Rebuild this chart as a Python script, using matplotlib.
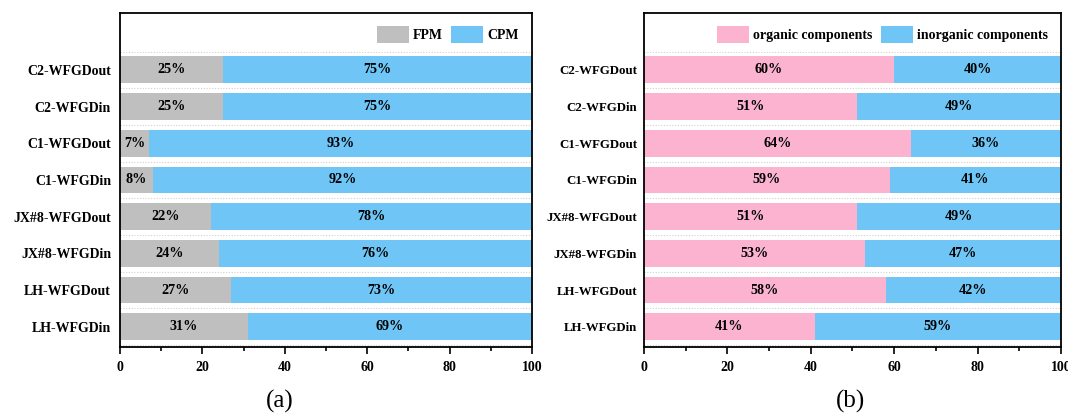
import matplotlib
matplotlib.use("Agg")
import matplotlib.pyplot as plt
from matplotlib.ticker import MultipleLocator
import numpy as np

plt.rcParams['font.family'] = ['Liberation Serif', 'DejaVu Serif']

samples = ["LH-WFGDin", "LH-WFGDout", "JX#8-WFGDin", "JX#8-WFGDout",
           "C1-WFGDin", "C1-WFGDout", "C2-WFGDin", "C2-WFGDout"]
fpm = [31, 27, 24, 22, 8, 7, 25, 25]
cpm = [69, 73, 76, 78, 92, 93, 75, 75]
organic = [41, 58, 53, 51, 59, 64, 51, 60]
inorganic = [59, 42, 47, 49, 41, 36, 49, 40]

GREY = "#bfbfbf"
BLUE = "#6fc5f5"
PINK = "#fbb3d0"

fig = plt.figure(figsize=(10.68, 4.16), dpi=100)
ax_a = fig.add_axes([0.1124, 0.1659, 0.3858, 0.8029])
ax_b = fig.add_axes([0.603, 0.1659, 0.3904, 0.8029])


def stacked(ax, left_vals, right_vals, c1, c2, names, label_size, label_pad):
    y = np.arange(len(samples))
    h = 0.73
    ax.barh(y, left_vals, height=h, color=c1, label=names[0], zorder=2)
    ax.barh(y, right_vals, left=left_vals, height=h, color=c2,
            label=names[1], zorder=2)
    for yi, a, b in zip(y, left_vals, right_vals):
        ax.text(a / 2, yi, f"{a}%", ha="center", va="center",
                fontsize=10.2, fontweight="bold", zorder=3)
        ax.text(a + b / 2, yi, f"{b}%", ha="center", va="center",
                fontsize=10.2, fontweight="bold", zorder=3)
    for yi in np.arange(-0.5, len(samples) + 0.5, 1.0):
        ax.axhline(yi, color="#d0d0d0", lw=0.8, ls=(0, (1, 1.5)), zorder=1)
    ax.set_xlim(0, 100)
    ax.set_ylim(-0.55, 8.55)
    ax.set_yticks(y)
    ax.set_yticklabels(samples, fontsize=label_size, fontweight="bold")
    ax.tick_params(axis="y", length=0, pad=label_pad)
    ax.xaxis.set_major_locator(MultipleLocator(20))
    ax.xaxis.set_minor_locator(MultipleLocator(10))
    ax.tick_params(axis="x", which="major", direction="out", length=5,
                   width=1.2, labelsize=10, pad=5)
    ax.tick_params(axis="x", which="minor", direction="out", length=3,
                   width=1.2)
    for lab in ax.get_xticklabels():
        lab.set_fontweight("bold")
    for sp in ax.spines.values():
        sp.set_linewidth(1.3)
    ax.legend(loc="upper right", ncol=2, frameon=False,
              handlelength=2.3, handleheight=1.5, columnspacing=0.6,
              handletextpad=0.3, borderaxespad=0.55,
              prop={"weight": "bold", "size": 10})


stacked(ax_a, fpm, cpm, GREY, BLUE, ["FPM", "CPM"], 10, 6.5)
stacked(ax_b, organic, inorganic, PINK, BLUE,
        ["organic components", "inorganic components"], 9.3, 5)

fig.text(0.262, 0.035, "(a)", ha="center", va="center", fontsize=18)
fig.text(0.796, 0.035, "(b)", ha="center", va="center", fontsize=18)

fig.savefig("out.png", dpi=100)
